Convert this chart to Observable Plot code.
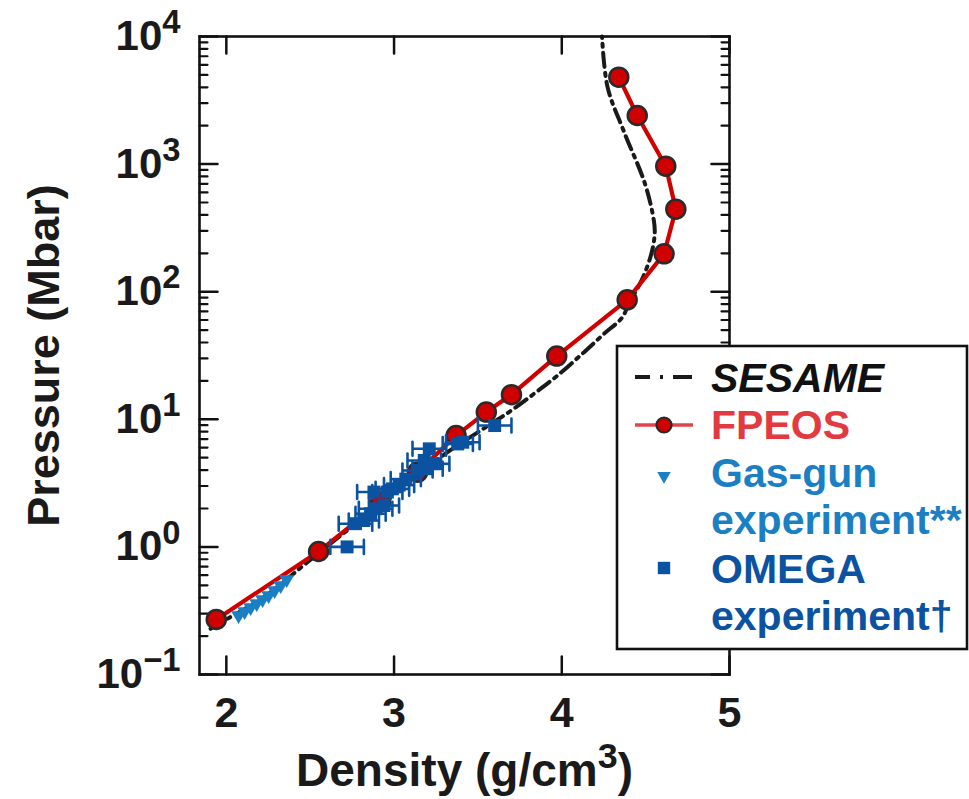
<!DOCTYPE html>
<html><head><meta charset="utf-8">
<script src="https://cdn.jsdelivr.net/npm/d3@7"></script>
<script src="https://cdn.jsdelivr.net/npm/@observablehq/plot@0.6"></script>
<style>
body{margin:0;background:#fff;}
#chart svg{display:block;}
#chart svg text{font-weight:bold;}
</style></head><body><div id="chart"></div>
<script>
// ---- data ----
const sesameDensity  = [1.906, 2.006, 2.224, 2.483, 2.920, 3.119, 3.318, 3.516, 3.690, 3.834, 3.974, 4.133, 4.252, 4.361, 4.400, 4.475, 4.534, 4.554, 4.549, 4.496, 4.368, 4.273, 4.240];
const sesamePressure = [0.228, 0.273, 0.404, 0.758, 2.18, 3.51, 5.52, 8.17, 11.5, 15.85, 22.0, 33.6, 46.8, 63, 81, 122, 198, 284, 361, 702, 1833, 4009, 10000];

const fpeosDensity  = [1.94, 2.55, 2.92, 3.14, 3.37, 3.55, 3.70, 3.97, 4.39, 4.61, 4.68, 4.62, 4.45, 4.34];
const fpeosPressure = [0.27, 0.92, 2.25, 3.85, 7.46, 11.4, 15.6, 31.3, 86.3, 198, 443, 963, 2404, 4800];

const gasgunDensity  = [2.073, 2.109, 2.145, 2.181, 2.216, 2.252, 2.288, 2.324, 2.360];
const gasgunPressure = [0.290, 0.312, 0.335, 0.360, 0.387, 0.416, 0.455, 0.498, 0.555];

const omegaDensity  = [2.72, 2.77, 2.82, 2.86, 2.89, 2.88, 2.94, 2.96, 2.99, 3.03, 3.07, 3.14, 3.18, 3.20, 3.24, 3.21, 3.38, 3.41, 3.60];
const omegaPressure = [1.00, 1.52, 1.61, 1.82, 1.99, 2.69, 2.11, 2.69, 2.85, 3.05, 3.40, 3.97, 4.76, 4.10, 4.48, 5.87, 6.41, 6.61, 8.93];
const omegaError    = [0.10, 0.10, 0.09, 0.09, 0.10, 0.10, 0.09, 0.09, 0.10, 0.09, 0.09, 0.09, 0.10, 0.09, 0.09, 0.10, 0.09, 0.10, 0.10];

const xTicks = [2, 3, 4, 5];
const yTicks = [0.1, 1, 10, 100, 1000, 10000];
const yTickLabels = ["10^\u22121", "10^0", "10^1", "10^2", "10^3", "10^4"];
const xLabel = "Density (g/cm^3)";
const yLabel = "Pressure (Mbar)";
const legendLabels = [["SESAME"], ["FPEOS"], ["Gas-gun", "experiment**"], ["OMEGA", "experiment\u2020"]];

// ---- tables ----
const sesame = sesameDensity.map((d, i) => ({density: d, pressure: sesamePressure[i]}));
const fpeos = fpeosDensity.map((d, i) => ({density: d, pressure: fpeosPressure[i]}));
const gasgun = gasgunDensity.map((d, i) => ({density: d, pressure: gasgunPressure[i]}));
const omega = omegaDensity.map((d, i) => ({density: d, pressure: omegaPressure[i], lo: d - omegaError[i], hi: d + omegaError[i]}));
const minorY = [];
for (let k = -1; k < 4; k++) for (let m = 2; m < 10; m++) minorY.push(m * Math.pow(10, k));

const RED = "#d10000", GASGUN = "#1b7fc3", OMEGA = "#0b52a0", INK = "#1a1a1a";
const FONT = "'Liberation Sans', Arial, Helvetica, sans-serif";
const capShape = {draw(ctx, l) { ctx.moveTo(0, -l / 2); ctx.lineTo(0, l / 2); }};
// inward tick shapes (drawn from the frame edge into the plot)
const tickRight = {draw(ctx, l) { ctx.moveTo(0, 0); ctx.lineTo(l, 0); }};
const tickLeft  = {draw(ctx, l) { ctx.moveTo(0, 0); ctx.lineTo(-l, 0); }};
const tickUp    = {draw(ctx, l) { ctx.moveTo(0, 0); ctx.lineTo(0, -l); }};
const tickDown  = {draw(ctx, l) { ctx.moveTo(0, 0); ctx.lineTo(0, l); }};
const tickOpts = (shape, length, w) => ({length, shape, anchor: "start", rotate: 0, stroke: "#111", strokeWidth: w});

const chart = Plot.plot({
  width: 969, height: 799,
  marginLeft: 199, marginRight: 240, marginTop: 36, marginBottom: 125,
  style: {fontFamily: FONT, background: "white", color: INK},
  x: {domain: [1.84, 5.0], label: null, axis: null},
  y: {type: "log", domain: [0.1, 10000], label: null, axis: null},
  marks: [
    // inward ticks
    Plot.vector(xTicks, {x: d => d, frameAnchor: "bottom", ...tickOpts(tickUp, 18, 2.5)}),
    Plot.vector(xTicks, {x: d => d, frameAnchor: "top", ...tickOpts(tickDown, 17, 2.5)}),
    Plot.vector(yTicks, {y: d => d, frameAnchor: "left", ...tickOpts(tickRight, 18, 2.5)}),
    Plot.vector(minorY, {y: d => d, frameAnchor: "left", ...tickOpts(tickRight, 8, 2.2)}),
    Plot.vector(yTicks, {y: d => d, frameAnchor: "right", ...tickOpts(tickLeft, 18, 2.5)}),
    Plot.vector(minorY, {y: d => d, frameAnchor: "right", ...tickOpts(tickLeft, 8, 2.2)}),
    // tick labels
    Plot.axisX({anchor: "bottom", ticks: xTicks, tickSize: 0, tickPadding: 22, fontSize: 43, fill: INK, tickFormat: d => String(d), label: null}),
    Plot.axisY({anchor: "left", ticks: yTicks, tickSize: 0, tickPadding: 19, fontSize: 42, fill: INK, tickFormat: d => yTickLabels[yTicks.indexOf(d)], label: null}),
    // axis titles
    Plot.text([yLabel], {frameAnchor: "left", textAnchor: "middle", lineAnchor: "middle", rotate: -90, dx: -155, fontSize: 45, fill: INK}),
    Plot.text([xLabel], {frameAnchor: "bottom", textAnchor: "middle", lineAnchor: "middle", dy: 97, fontSize: 46, fill: INK}),
    // data
    Plot.line(sesame, {x: "density", y: "pressure", stroke: INK, strokeWidth: 4, strokeDasharray: "14,6,3,6", curve: "catmull-rom"}),
    Plot.line(fpeos, {x: "density", y: "pressure", stroke: RED, strokeWidth: 4.2}),
    Plot.dot(fpeos, {x: "density", y: "pressure", r: 9.5, fill: RED, stroke: "#2a2a2a", strokeWidth: 2.5}),
    Plot.dot(gasgun, {x: "density", y: "pressure", symbol: "triangle", rotate: 180, r: 5.5, fill: GASGUN}),
    Plot.ruleY(omega, {y: "pressure", x1: "lo", x2: "hi", stroke: OMEGA, strokeWidth: 2.6}),
    Plot.vector(omega, {x: "lo", y: "pressure", length: 14, rotate: 0, anchor: "start", shape: capShape, stroke: OMEGA, strokeWidth: 2.6}),
    Plot.vector(omega, {x: "hi", y: "pressure", length: 14, rotate: 0, anchor: "start", shape: capShape, stroke: OMEGA, strokeWidth: 2.6}),
    Plot.dot(omega, {x: "density", y: "pressure", symbol: "square", r: 7.3, fill: OMEGA}),
    Plot.frame({stroke: "#111", strokeWidth: 2.6})
  ]
});

// superscripts: "a^b(rest)"
d3.select(chart).selectAll("text").each(function() {
  if (this.querySelector("tspan")) return;
  const t = this.textContent;
  const m = t.match(/^(.*?)\^([\u22120-9]+)(.*)$/);
  if (!m) return;
  const fs = parseFloat(this.getAttribute("font-size")) || parseFloat(this.parentNode.getAttribute("font-size")) || 40;
  const el = d3.select(this);
  el.text(null);
  el.append("tspan").text(m[1]);
  el.append("tspan").attr("font-size", 0.78 * fs).attr("dy", -0.4 * fs).text(m[2]);
  if (m[3]) el.append("tspan").attr("font-size", fs).attr("dy", 0.4 * fs).text(m[3]);
});

// legend (overlapping the frame, as in the reference)
const svg = d3.select(chart);
const lg = svg.append("g").attr("font-family", FONT).attr("font-weight", "bold").attr("font-size", 41).attr("text-anchor", "start");
lg.append("rect").attr("x", 617).attr("y", 346).attr("width", 350).attr("height", 303)
  .attr("fill", "white").attr("stroke", "#111").attr("stroke-width", 2.6);
const tx = 711, sx0 = 635, sx1 = 693, sc = 664;
// SESAME
lg.append("line").attr("x1", sx0).attr("x2", sx1).attr("y1", 377).attr("y2", 377)
  .attr("stroke", INK).attr("stroke-width", 4).attr("stroke-dasharray", "15,10,3,10,19");
lg.append("text").attr("x", tx).attr("y", 392).attr("font-style", "italic").attr("fill", "#111").text(legendLabels[0][0]);
// FPEOS
lg.append("line").attr("x1", sx0).attr("x2", sx1).attr("y1", 425).attr("y2", 425)
  .attr("stroke", "#e0454b").attr("stroke-width", 3.5);
lg.append("circle").attr("cx", sc).attr("cy", 425).attr("r", 7.5).attr("fill", RED).attr("stroke", "#2a2a2a").attr("stroke-width", 2.2);
lg.append("text").attr("x", tx).attr("y", 439).attr("fill", "#e23a40").text(legendLabels[1][0]);
// Gas-gun
lg.append("path").attr("d", d3.symbol(d3.symbolTriangle, Math.PI * 5 * 5)()).attr("transform", `translate(${sc},476) rotate(180)`).attr("fill", GASGUN);
lg.append("text").attr("x", tx).attr("y", 487).attr("fill", GASGUN).text(legendLabels[2][0]);
lg.append("text").attr("x", tx).attr("y", 534).attr("fill", GASGUN).text(legendLabels[2][1]);
// OMEGA
lg.append("path").attr("d", d3.symbol(d3.symbolSquare, Math.PI * 7 * 7)()).attr("transform", `translate(${sc},568)`).attr("fill", OMEGA);
lg.append("text").attr("x", tx).attr("y", 583).attr("fill", OMEGA).text(legendLabels[3][0]);
lg.append("text").attr("x", tx).attr("y", 630).attr("fill", OMEGA).text(legendLabels[3][1]);

document.getElementById("chart").appendChild(chart);
</script>
</body></html>
